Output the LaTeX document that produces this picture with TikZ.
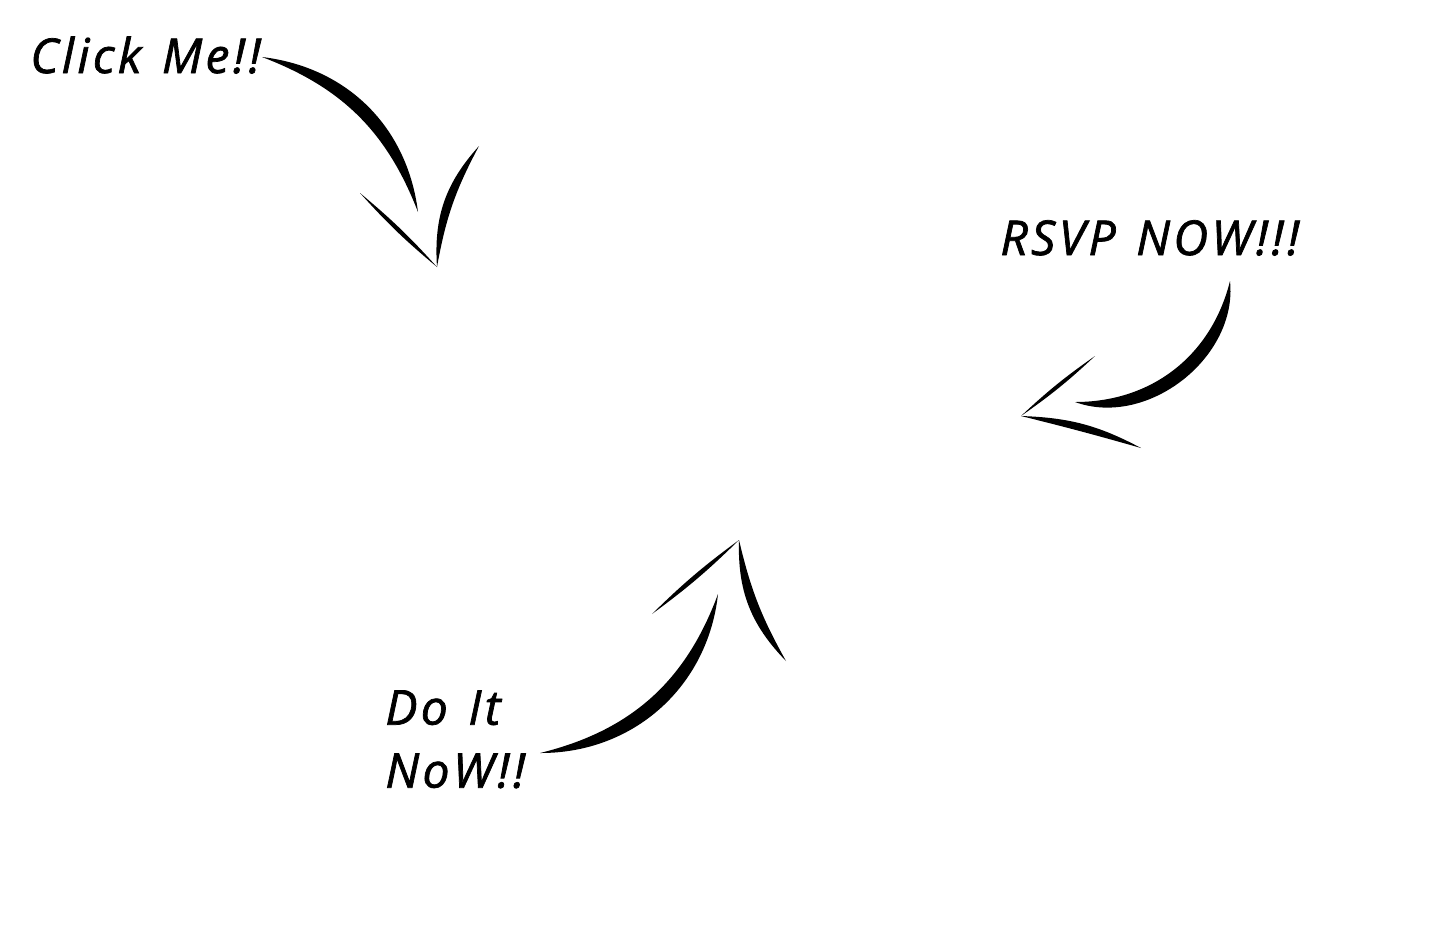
\documentclass[tikz,border=0pt]{standalone}
\usepackage{fontspec}
\setmainfont{Open Sans}[LetterSpace=7,WordSpace=1.3,FakeBold=1.5]
\usepackage{tikz}
\newcommand{\tapered}[4]{\fill (#1) to[bend left=#3] (#2) to[bend right=#4] (#1) -- cycle;}

\begin{document}
\begin{tikzpicture}[x=0.5pt,y=0.5pt]
\tikzset{hand/.style={inner sep=0pt,font=\fontsize{24}{31.5}\selectfont\itshape}}
\useasboundingbox (0,0) rectangle (1440,-944);
\node[hand,anchor=base west] (click) at (30,-73) {Click Me!!};
\node[hand,anchor=base west] (rsvp) at (1000,-255) {RSVP NOW!!!};
\node[hand,anchor=north west,align=left] (doit) at (385,-690) {Do It\\NoW!!};

\coordinate (c0) at (262,-57);
\coordinate (c1) at (418,-212);
\coordinate (c2) at (360,-193);
\coordinate (c3) at (437,-267);
\coordinate (c4) at (479,-146);

\coordinate (r0) at (1230,-281);
\coordinate (r1) at (1075,-402);
\coordinate (r2) at (1095,-356);
\coordinate (r3) at (1021,-416);
\coordinate (r4) at (1141,-448);

\coordinate (d0) at (540,-753);
\coordinate (d1) at (718,-594);
\coordinate (d2) at (652,-614);
\coordinate (d3) at (739,-540);
\coordinate (d4) at (786,-661);

\tapered{c0}{c1}{38}{24}
\tapered{c2}{c3}{4}{-4}
\tapered{c3}{c4}{23}{9}

\tapered{r0}{r1}{58}{38}
\tapered{r2}{r3}{4}{-4}
\tapered{r3}{r4}{13}{1}

\tapered{d1}{d0}{42}{28}
\tapered{d2}{d3}{4}{-4}
\tapered{d4}{d3}{23}{8}
\end{tikzpicture}
\end{document}
